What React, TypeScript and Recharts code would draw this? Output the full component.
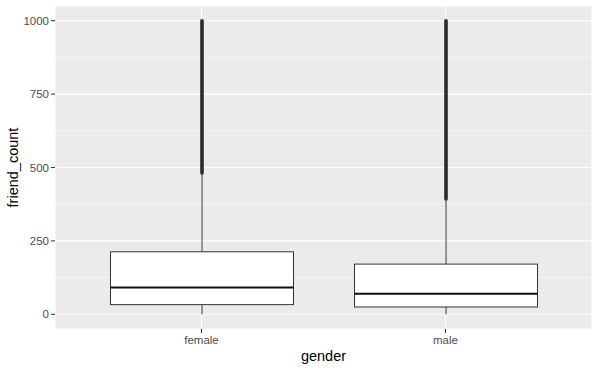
import { Bar, CartesianGrid, ComposedChart, XAxis, YAxis } from "recharts";

const genders = ["female", "male"];
const whiskerLow = [0, 0];
const lowerQuartile = [33, 25];
const medians = [91, 70];
const upperQuartile = [213, 171];
const whiskerHigh = [476, 389];
const outlierLow = [481, 393];
const outlierHigh = [1000, 1000];

const yTicks = [0, 250, 500, 750, 1000];
const yMinorTicks = [125, 375, 625, 875];

const data = genders.map((gender, i) => ({
  gender,
  box: [lowerQuartile[i], upperQuartile[i]],
  low: whiskerLow[i],
  q1: lowerQuartile[i],
  median: medians[i],
  q3: upperQuartile[i],
  high: whiskerHigh[i],
  outLow: outlierLow[i],
  outHigh: outlierHigh[i],
}));

const FONT = '"Liberation Sans", Arial, sans-serif';

// Box glyph: the range bar gives q1..q3 in pixels, everything else is placed on the same scale.
function BoxShape(props: any) {
  const { x, y, width, height, payload } = props;
  const top = Math.min(y, y + height);
  const k = Math.abs(height) / (payload.q3 - payload.q1);
  const py = (v: number) => top + (payload.q3 - v) * k;
  const cx = x + width / 2;
  return (
    <g>
      <line x1={cx} x2={cx} y1={py(payload.q3)} y2={py(payload.high)} stroke="#333" strokeWidth={1} />
      <line x1={cx} x2={cx} y1={py(payload.q1)} y2={py(payload.low)} stroke="#333" strokeWidth={1} />
      <line
        x1={cx}
        x2={cx}
        y1={py(payload.outLow)}
        y2={py(payload.outHigh)}
        stroke="#2b2b2b"
        strokeWidth={3.6}
        strokeLinecap="round"
      />
      <rect x={x} y={py(payload.q3)} width={width} height={py(payload.q1) - py(payload.q3)} fill="#fff" stroke="#333" strokeWidth={1} />
      <line x1={x} x2={x + width} y1={py(payload.median)} y2={py(payload.median)} stroke="#111" strokeWidth={2} />
    </g>
  );
}

export default function App() {
  return (
    <div style={{ position: "absolute", left: 0, top: 0, width: 600, height: 370, background: "#fff" }}>
      <ComposedChart width={600} height={370} data={data} margin={{ top: 6, right: 8, bottom: 0, left: 0 }}>
        {/* minor grid first, then the major grid on top of it */}
        <CartesianGrid fill="#EBEBEB" stroke="#fff" strokeWidth={0.55} vertical={false} horizontalValues={yMinorTicks} />
        <CartesianGrid stroke="#fff" strokeWidth={1.1} />
        <XAxis
          dataKey="gender"
          height={41}
          axisLine={false}
          tickSize={4}
          tickMargin={3}
          padding={{ left: 24.5, right: 24.5 }}
          tickLine={{ stroke: "#333" }}
          tick={{ fill: "#4D4D4D", fontSize: 11.5, fontFamily: FONT }}
          label={(p: any) => (
            <text
              x={p.viewBox.x + p.viewBox.width / 2}
              y={p.viewBox.y + 32}
              textAnchor="middle"
              fill="#000"
              fontSize={14.5}
              fontFamily={FONT}
            >
              gender
            </text>
          )}
        />
        <YAxis
          width={55}
          domain={[-50, 1050]}
          ticks={yTicks}
          allowDataOverflow
          axisLine={false}
          tickSize={4}
          tickMargin={2}
          tickLine={{ stroke: "#333" }}
          tick={{ fill: "#4D4D4D", fontSize: 11.5, fontFamily: FONT }}
          label={(p: any) => {
            const cy = p.viewBox.y + p.viewBox.height / 2;
            return (
              <text
                x={18}
                y={cy}
                transform={`rotate(-90 18 ${cy})`}
                textAnchor="middle"
                fill="#000"
                fontSize={14.5}
                fontFamily={FONT}
              >
                friend_count
              </text>
            );
          }}
        />
        <Bar dataKey="box" barSize={183} shape={BoxShape} isAnimationActive={false} />
      </ComposedChart>
    </div>
  );
}
